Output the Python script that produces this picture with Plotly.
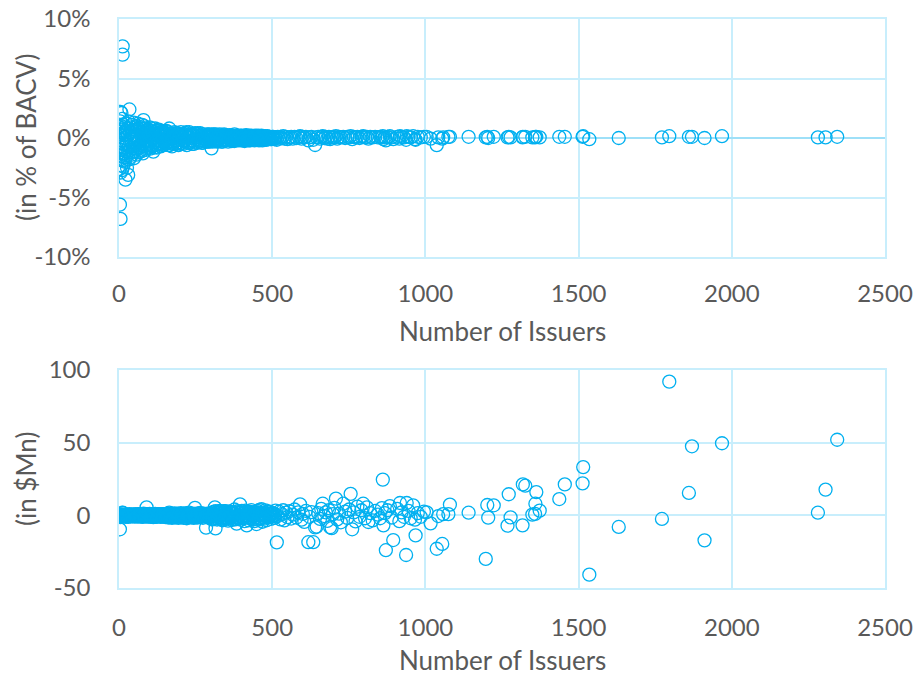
import plotly.graph_objects as go

# Portfolio observations: number of issuers, difference as % of BACV, difference in $Mn
issuers = [
    0, 1, 1, 2, 2, 3, 3, 4,
    4, 5, 5, 5, 6, 6, 7, 7,
    8, 8, 9, 9, 10, 10, 11, 12,
    12, 12, 13, 14, 14, 15, 16, 16,
    17, 18, 19, 20, 21, 21, 22, 23,
    24, 25, 26, 27, 28, 29, 30, 31,
    32, 33, 34, 35, 36, 38, 39, 40,
    42, 43, 44, 45, 47, 48, 49, 50,
    52, 53, 55, 56, 58, 59, 61, 62,
    64, 65, 67, 68, 70, 72, 73, 75,
    76, 78, 80, 81, 83, 85, 86, 88,
    90, 91, 93, 95, 96, 98, 100, 102,
    104, 105, 107, 109, 110, 112, 114, 116,
    118, 120, 122, 124, 126, 128, 130, 132,
    134, 136, 138, 140, 142, 144, 146, 148,
    51, 54, 57, 60, 63, 66, 69, 71,
    74, 77, 79, 82, 84, 87, 89, 92,
    97, 99, 103, 106, 108, 111, 115, 119,
    121, 125, 127, 131, 135, 139, 143, 147,
    150, 152, 154, 157, 159, 161, 164, 166,
    168, 171, 173, 176, 178, 181, 184, 186,
    189, 191, 194, 197, 199, 202, 205, 207,
    210, 213, 215, 218, 221, 224, 226, 229,
    232, 235, 238, 241, 244, 248, 250, 253,
    256, 259, 262, 265, 268, 271, 274, 277,
    280, 284, 287, 290, 293, 296, 299, 302,
    151, 155, 158, 162, 165, 169, 172, 175,
    179, 183, 187, 192, 196, 200, 204, 209,
    212, 217, 220, 225, 230, 234, 239, 243,
    247, 252, 257, 261, 266, 270, 275, 279,
    283, 286, 289, 292, 295, 298, 301, 303,
    304, 307, 310, 313, 315, 317, 320, 323,
    326, 329, 332, 335, 338, 341, 344, 347,
    350, 353, 356, 359, 362, 365, 368, 371,
    374, 377, 380, 384, 387, 390, 393, 395,
    398, 401, 404, 407, 410, 413, 417, 420,
    423, 426, 429, 432, 436, 439, 442, 446,
    449, 452, 455, 458, 462, 465, 468, 472,
    475, 478, 482, 485, 489, 492, 496, 499,
    306, 309, 312, 316, 319, 322, 325, 328,
    331, 334, 337, 340, 343, 346, 349, 352,
    355, 358, 361, 364, 367, 370, 373, 376,
    379, 382, 386, 389, 392, 396, 399, 403,
    406, 409, 412, 415, 419, 422, 425, 428,
    431, 434, 438, 441, 444, 448, 451, 454,
    457, 460, 464, 467, 470, 474, 477, 480,
    484, 487, 490, 494, 497, 501, 505, 509,
    503, 507, 511, 515, 518, 522, 527, 531,
    536, 540, 545, 550, 556, 562, 567, 573,
    579, 585, 591, 596, 600, 605, 610, 618,
    622, 628, 634, 640, 645, 650, 656, 660,
    665, 670, 675, 680, 685, 689, 694, 698,
    703, 708, 712, 718, 724, 732, 738, 745,
    751, 756, 761, 766, 772, 778, 785, 791,
    797, 803, 809, 814, 820, 828, 836, 845,
    852, 858, 861, 863, 868, 871, 876, 884,
    890, 895, 908, 915, 917, 922, 930, 937,
    939, 945, 952, 960, 966, 968, 975, 985,
    995, 1004, 1017, 1037, 1042, 1055, 1058, 1075,
    1080, 1141, 1197, 1202, 1205, 1223, 1268, 1272,
    1278, 1317, 1318, 1326, 1349, 1358, 1359, 1362,
    1373, 1437, 1455, 1513, 1515, 1535, 1631, 1772,
    1796, 1860, 1870, 1911, 1968, 2281, 2306, 2344,
]

pct_of_bacv = [
    -0.4, 0.3, -1.2, -2.6, 0.9, -5.6, 0.2, -1.8,
    1.4, -6.8, 2.2, -0.7, -2.9, 0.5, -1.5, 1.0,
    2.1, -2.3, -0.2, -1.0, 0.7, -2.7, 1.6, 7.7,
    7.0, -0.5, -1.9, 0.4, -2.4, 1.1, -1.3, 0.0,
    -0.8, 0.9, -2.0, 0.3, -3.5, -1.1, 0.6, -1.6,
    1.2, -0.4, -2.5, 0.8, -1.2, 0.2, -3.1, 1.4,
    -0.7, -1.8, 2.4, 0.5, -1.0, -1.6, 0.9, -0.3,
    1.1, -1.4, -1.2, 0.6, -0.9, 1.3, -1.7, 0.2,
    -1.1, 0.7, -0.4, 1.0, -1.4, 0.3, -0.8, 1.2,
    -0.2, -1.2, 0.6, -0.6, 0.9, -1.0, 0.1, -0.5,
    1.1, -1.3, 1.5, 0.4, -0.7, 0.8, -0.3, -1.0,
    0.6, -0.2, 0.7, -0.8, 0.2, -0.5, 0.9, -0.9,
    0.3, -0.3, 0.6, -0.7, 0.1, -1.15, 0.5, -0.4,
    0.8, -0.6, 0.2, -0.8, 0.4, -0.2, 0.7, -0.5,
    0.1, -0.7, 0.5, -0.3, 0.6, -0.6, 0.2, -0.4,
    0.9, -0.9, 0.2, -0.3, 0.8, 0.4, -0.8, 0.5,
    -1.1, 0.3, -0.4, 1.0, -0.2, 0.6, -0.6, 0.4,
    0.5, -0.3, -0.6, 0.8, -0.1, 0.3, -0.8, 0.4,
    -0.3, 0.6, -0.5, 0.2, 0.4, -0.5, 0.1, 0.5,
    0.4, -0.5, 0.3, -0.2, 0.5, -0.6, 0.8, 0.0,
    -0.4, 0.4, -0.7, 0.2, -0.3, 0.5, -0.5, 0.1,
    -0.2, 0.4, -0.6, 0.3, -0.1, 0.5, -0.4, 0.2,
    -0.5, 0.3, -0.2, 0.4, -0.6, 0.1, -0.3, 0.5,
    -0.4, 0.2, -0.2, 0.3, -0.5, 0.4, -0.1, 0.3,
    -0.4, 0.2, -0.3, 0.4, -0.2, 0.1, -0.4, 0.3,
    -0.1, -0.3, 0.2, -0.3, 0.3, -0.2, 0.2, -0.87,
    -0.2, 0.6, -0.4, 0.2, -0.6, 0.3, 0.0, -0.5,
    0.3, -0.2, 0.4, -0.4, 0.1, -0.5, 0.3, 0.0,
    -0.3, 0.2, 0.5, -0.4, 0.0, 0.3, -0.5, 0.2,
    -0.3, 0.1, 0.4, -0.2, 0.2, -0.4, 0.0, 0.2,
    0.1, -0.2, 0.3, 0.0, -0.3, 0.1, -0.2, 0.3,
    0.2, -0.2, 0.3, 0.15, -0.2, 0.1, -0.3, 0.2,
    -0.1, 0.3, -0.2, 0.1, -0.3, 0.2, -0.1, 0.25,
    -0.2, 0.1, -0.3, 0.2, -0.1, 0.2, -0.25, 0.1,
    -0.1, 0.3, -0.2, 0.0, 0.2, -0.1, 0.1, 0.15,
    -0.2, 0.2, -0.1, 0.1, -0.25, 0.2, -0.1, 0.1,
    -0.2, 0.15, -0.1, 0.2, -0.15, 0.1, -0.2, 0.1,
    -0.1, 0.15, -0.15, 0.1, -0.1, 0.2, -0.2, 0.05,
    -0.1, 0.15, -0.15, 0.1, -0.05, 0.1, -0.1, 0.05,
    -0.3, 0.1, -0.1, 0.3, 0.0, -0.25, 0.2, 0.0,
    0.2, -0.3, 0.1, -0.1, 0.3, -0.2, 0.05, 0.2,
    -0.15, 0.0, 0.25, -0.2, 0.1, -0.1, 0.2, -0.25,
    0.1, -0.15, 0.2, -0.2, 0.0, 0.2, -0.15, 0.1,
    -0.2, 0.15, -0.05, 0.25, -0.15, 0.0, 0.2, -0.2,
    0.1, -0.1, 0.15, -0.05, 0.2, -0.15, 0.0, 0.2,
    -0.2, 0.05, 0.15, -0.1, 0.1, -0.15, 0.05, -0.05,
    0.15, -0.1, 0.1, 0.0, -0.1, 0.1, -0.05, 0.05,
    0.1, -0.1, 0.05, -0.15, 0.1, -0.05, 0.1, 0.0,
    0.15, -0.05, 0.1, -0.1, 0.05, 0.1, -0.05, 0.1,
    0.0, 0.1, 0.15, -0.05, 0.1, 0.05, 0.1, -0.2,
    0.05, 0.1, -0.15, -0.59, 0.05, 0.1, -0.05, 0.1,
    0.15, 0.0, 0.1, -0.05, 0.1, -0.1, 0.05, 0.1,
    0.05, 0.15, -0.05, 0.1, 0.05, 0.1, 0.0, 0.1,
    0.05, 0.15, -0.1, 0.1, 0.05, 0.1, 0.0, 0.1,
    0.15, 0.05, 0.1, -0.05, 0.1, 0.05, 0.1, 0.05,
    0.1, 0.05, 0.15, -0.1, 0.05, -0.2, 0.1, 0.15,
    0.05, -0.1, 0.1, -0.05, 0.15, 0.1, 0.05, -0.15,
    0.15, 0.1, 0.05, 0.15, -0.1, -0.15, 0.1, 0.05,
    0.1, 0.1, -0.05, -0.6, 0.05, -0.05, 0.05, 0.1,
    0.1, 0.1, 0.05, 0.1, 0.0, 0.1, 0.05, 0.1,
    0.05, 0.05, 0.1, 0.1, 0.05, 0.05, 0.1, 0.1,
    0.05, 0.1, 0.1, 0.1, 0.15, -0.1, 0.0, 0.05,
    0.15, 0.1, 0.1, 0.0, 0.15, 0.05, 0.05, 0.1,
]

usd_mn = [
    -0.1, 0.1, -0.3, -0.5, 0.2, -9.6, 0.0, -0.4,
    0.3, -1.2, 0.4, -0.2, -0.6, 0.1, -0.3, 0.2,
    0.5, -0.5, 0.0, -0.2, 0.2, -0.7, 0.4, 1.8,
    1.6, -0.1, -0.5, 0.1, -0.6, 0.3, -0.4, 0.0,
    -0.2, 0.3, -0.6, 0.1, -1.0, -0.3, 0.2, -0.5,
    0.4, -0.1, -0.8, 0.3, -0.4, 0.1, -1.0, 0.5,
    -0.2, -0.6, 0.9, 0.2, -0.4, -0.8, 0.3, -0.1,
    0.4, -0.6, -0.5, 0.3, -0.4, 0.6, -0.8, 0.1,
    -0.6, 0.4, -0.2, 0.6, -0.8, 0.2, -0.5, 0.8,
    -0.1, -0.8, 0.4, -0.4, 0.6, -0.7, 0.1, -0.4,
    0.8, -1.0, 1.2, 0.3, -0.6, 0.7, -0.2, -0.9,
    5.5, -0.2, 0.7, -0.8, 0.2, -0.5, 1.0, -1.0,
    0.3, -0.3, 0.7, -0.8, 0.1, -1.3, 0.6, -0.5,
    1.0, -0.8, 0.3, -1.0, 0.5, -0.3, 0.9, -0.7,
    0.1, -1.0, 0.7, -0.4, 0.9, -0.9, 0.3, -0.6,
    0.5, -0.5, 0.1, -0.2, 0.5, 0.3, -0.5, 0.3,
    -0.8, 0.2, -0.3, 0.8, -0.2, 0.5, -0.5, 0.4,
    0.5, -0.3, -0.6, 0.8, -0.1, 0.3, -0.9, 0.5,
    -0.4, 0.8, -0.6, 0.3, 0.5, -0.7, 0.1, 0.7,
    0.6, -1.2, 0.8, -0.5, 1.2, -1.5, 1.9, 0.0,
    -1.1, 1.1, -1.8, 0.6, -0.8, 1.4, -1.4, 0.3,
    -0.6, 1.2, -1.8, 0.9, -0.3, 1.5, -1.2, 0.6,
    -1.7, 1.1, -0.6, 1.4, -2.0, 0.3, -1.1, 1.8,
    -1.4, 0.8, -0.8, 1.1, -1.8, 5.2, -0.5, 1.2,
    -1.5, 0.8, -1.2, 1.7, -0.8, 0.5, -1.7, 1.2,
    -0.5, -8.5, 0.9, -1.4, 1.4, -0.9, 0.9, -2.6,
    -0.3, 1.0, -0.7, 0.3, -1.0, 0.5, 0.0, -0.9,
    0.6, -0.4, 0.8, -0.8, 0.2, -1.0, 0.6, 0.0,
    -0.7, 0.4, 1.1, -0.9, 0.0, 0.7, -1.2, 0.5,
    -0.8, 0.3, 1.0, -0.5, 0.6, -1.1, 0.0, 0.6,
    0.3, -0.6, 0.9, 0.0, -0.9, 0.3, -0.6, 0.9,
    1.8, -2.2, 2.6, 5.5, -9.0, 0.8, -2.9, 2.0,
    -1.2, 3.0, -2.4, 1.0, -3.4, 2.2, -1.0, 2.8,
    -2.5, 1.2, -3.6, 2.6, -1.2, 2.4, -3.2, 1.5,
    -1.5, 4.0, -2.8, -5.7, 2.8, -1.5, 1.5, 7.6,
    -3.0, 3.0, -1.8, 1.8, -4.0, 3.2, -6.9, 1.8,
    -3.4, 2.6, -1.8, 3.6, -2.8, 2.0, -4.0, 2.0,
    -6.0, 3.0, -3.0, 3.8, -2.2, 4.2, -4.4, 1.2,
    -2.2, 3.4, -3.4, 2.5, -1.2, 2.5, -2.5, 1.2,
    -2.8, 0.9, -0.9, 2.8, 0.0, -2.3, 1.9, 0.0,
    1.9, -2.9, 1.0, -1.0, 2.9, -1.9, 0.5, 2.0,
    -1.5, 0.0, 2.5, -2.0, 1.0, -1.0, 2.0, -2.5,
    1.0, -1.5, 2.0, -2.0, 0.0, 2.0, -1.5, 1.0,
    -2.0, 1.5, -0.5, 2.5, -1.5, 0.0, 2.0, -2.0,
    1.0, -1.0, 1.5, -0.5, 2.0, -1.5, 0.0, 2.0,
    -2.0, 0.5, 1.5, -1.0, 1.0, -1.5, 0.5, -0.5,
    1.5, -1.0, 1.0, 0.0, -1.0, 1.0, -0.5, 0.5,
    1.5, -1.8, 3.2, -18.6, -0.5, 2.5, -2.8, 0.8,
    3.5, -3.5, 1.8, -1.2, 2.8, -2.2, 0.5, 4.0,
    -1.5, 2.0, 7.5, -3.0, 1.0, -4.5, 3.0, -18.5,
    -1.0, 2.2, -18.5, -8.3, -7.8, 1.5, -2.5, 4.5,
    8.0, -0.5, 2.0, -3.8, 3.5, -8.2, -8.8, 0.8,
    5.2, 11.5, -2.8, 1.2, -4.8, 8.0, 2.5, -1.8,
    4.0, 14.8, -9.6, 2.0, -4.2, 6.0, -1.0, 3.5,
    8.0, -2.0, 5.5, -4.6, 1.5, -3.5, 3.0, 0.5,
    -2.0, 5.0, 24.6, -6.9, 1.5, -24.0, 3.5, 6.4,
    -1.5, -17.0, 4.5, -4.0, 8.5, 2.0, -1.0, -27.3,
    8.5, 3.0, -2.0, 6.9, -3.0, -13.8, 1.5, -1.0,
    2.5, 2.1, -5.5, -23.0, -0.5, -19.7, 0.8, 0.8,
    7.4, 1.8, -30.0, 7.1, -1.6, 6.9, -7.1, 14.5,
    -1.4, -6.9, 21.3, 20.4, 0.5, 1.0, 8.0, 16.0,
    3.2, 11.2, 21.3, 22.0, 33.2, -40.8, -8.0, -2.5,
    92.0, 15.4, 47.5, -17.2, 49.6, 1.8, 17.7, 52.0,
]

assert len(issuers) == len(pct_of_bacv) == len(usd_mn)

x_ticks = [0, 500, 1000, 1500, 2000, 2500]
pct_ticks = [-10, -5, 0, 5, 10]
pct_tick_text = ["-10%", "-5%", "0%", "5%", "10%"]
usd_ticks = [-50, 0, 50, 100]
usd_tick_text = ["-50", "0", "50", "100"]

MARKER_BLUE = "#00B0F0"
GRID_BLUE = "#C8EEFC"
AXIS_BLUE = "#9EE0F8"
TEXT_GREY = "#595959"
FONT = "Lato"

W, H = 917, 677
# plot areas in pixels: (left, right, top, bottom)
top_box = (119, 885, 19, 257)
bot_box = (119, 885, 370, 588)


def xdom(box):
    return [box[0] / W, box[1] / W]


def ydom(box):
    return [1 - box[3] / H, 1 - box[2] / H]


marker = dict(symbol="circle-open", size=13, color=MARKER_BLUE,
              line=dict(width=1.3, color=MARKER_BLUE))

fig = go.Figure()
fig.add_trace(go.Scatter(x=issuers, y=pct_of_bacv, mode="markers",
                         xaxis="x", yaxis="y", marker=marker,
                         hoverinfo="x+y", showlegend=False))
fig.add_trace(go.Scatter(x=issuers, y=usd_mn, mode="markers",
                         xaxis="x2", yaxis="y2", marker=marker,
                         hoverinfo="x+y", showlegend=False))

tick_font = dict(family=FONT, size=24, color=TEXT_GREY)
common_axis = dict(showgrid=True, gridcolor=GRID_BLUE, gridwidth=1.5,
                   showline=True, mirror=True, linecolor=GRID_BLUE,
                   linewidth=1.5, ticks="", tickfont=tick_font,
                   fixedrange=True)

fig.update_layout(
    width=W, height=H,
    margin=dict(l=0, r=0, t=0, b=0, autoexpand=False),
    paper_bgcolor="white", plot_bgcolor="white",
    font=dict(family=FONT, color=TEXT_GREY),
    xaxis=dict(common_axis, domain=xdom(top_box), anchor="y",
               range=[0, 2500], tickvals=x_ticks, zeroline=False,
               ticklabelstandoff=14),
    yaxis=dict(common_axis, domain=ydom(top_box), anchor="x",
               range=[-10, 10], tickvals=pct_ticks, ticktext=pct_tick_text,
               zeroline=True, zerolinecolor=AXIS_BLUE, zerolinewidth=2,
               ticklabelstandoff=22),
    xaxis2=dict(common_axis, domain=xdom(bot_box), anchor="y2",
                range=[0, 2500], tickvals=x_ticks, zeroline=False,
                ticklabelstandoff=17),
    yaxis2=dict(common_axis, domain=ydom(bot_box), anchor="x2",
                range=[-50, 100], tickvals=usd_ticks, ticktext=usd_tick_text,
                zeroline=False, ticklabelstandoff=22),
)

title_font = dict(family=FONT, size=26, color=TEXT_GREY)
x_mid = (top_box[0] + top_box[1]) / 2 / W
fig.add_annotation(text="Number of Issuers", x=x_mid, y=1 - 331 / H,
                   xref="paper", yref="paper", showarrow=False,
                   xanchor="center", yanchor="middle", font=title_font)
fig.add_annotation(text="Number of Issuers", x=x_mid, y=1 - 660 / H,
                   xref="paper", yref="paper", showarrow=False,
                   xanchor="center", yanchor="middle", font=title_font)
fig.add_annotation(text="(in % of BACV)", x=26 / W,
                   y=1 - (top_box[2] + top_box[3]) / 2 / H,
                   xref="paper", yref="paper", showarrow=False, textangle=-90,
                   xanchor="center", yanchor="middle", font=title_font)
fig.add_annotation(text="(in $Mn)", x=26 / W,
                   y=1 - (bot_box[2] + bot_box[3]) / 2 / H,
                   xref="paper", yref="paper", showarrow=False, textangle=-90,
                   xanchor="center", yanchor="middle", font=title_font)

fig.write_html("out.html")
